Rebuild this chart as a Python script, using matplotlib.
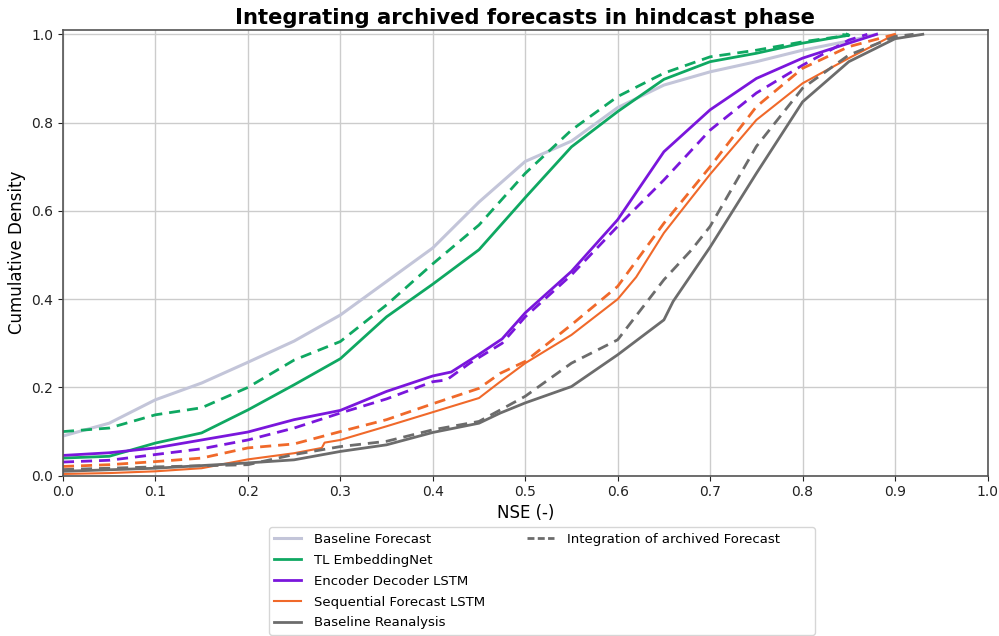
import matplotlib
matplotlib.use("Agg")
import matplotlib.pyplot as plt
from matplotlib.lines import Line2D

# NSE values (x) and cumulative density (y)
nse_grid = [0.0, 0.05, 0.1, 0.15, 0.2, 0.25, 0.3, 0.35, 0.4, 0.45, 0.5,
            0.55, 0.6, 0.65, 0.7, 0.75, 0.8, 0.85]

# Baseline Forecast
bf_x = nse_grid + [0.88]
bf_y = [0.090, 0.119, 0.172, 0.210, 0.257, 0.305, 0.364, 0.440, 0.516, 0.620, 0.712,
        0.758, 0.834, 0.885, 0.915, 0.938, 0.964, 0.985, 1.0]

# TL EmbeddingNet
tl_x = nse_grid + [0.848]
tl_y = [0.040, 0.044, 0.074, 0.097, 0.149, 0.206, 0.265, 0.360, 0.434, 0.512, 0.630,
        0.745, 0.825, 0.898, 0.938, 0.957, 0.980, 0.998, 1.0]
tl_dash_x = nse_grid + [0.84]
tl_dash_y = [0.100, 0.108, 0.138, 0.154, 0.200, 0.262, 0.304, 0.387, 0.480, 0.568, 0.685,
             0.783, 0.859, 0.912, 0.949, 0.964, 0.983, 0.998, 1.0]

# Encoder Decoder LSTM
ed_x = [0.0, 0.05, 0.1, 0.15, 0.2, 0.25, 0.3, 0.35, 0.4, 0.42, 0.45, 0.475, 0.5,
        0.55, 0.6, 0.65, 0.7, 0.75, 0.8, 0.85, 0.88]
ed_y = [0.046, 0.052, 0.063, 0.081, 0.099, 0.127, 0.148, 0.191, 0.226, 0.235, 0.275,
        0.310, 0.369, 0.463, 0.580, 0.734, 0.829, 0.900, 0.946, 0.980, 1.0]
ed_dash_x = [0.0, 0.05, 0.1, 0.15, 0.2, 0.25, 0.3, 0.35, 0.4, 0.415, 0.44, 0.475, 0.5,
             0.55, 0.6, 0.65, 0.7, 0.75, 0.8, 0.85, 0.87]
ed_dash_y = [0.031, 0.035, 0.048, 0.061, 0.081, 0.108, 0.142, 0.174, 0.213, 0.217, 0.255,
             0.300, 0.360, 0.455, 0.565, 0.670, 0.783, 0.867, 0.930, 0.987, 1.0]

# Sequential Forecast LSTM
sf_x = [0.0, 0.05, 0.1, 0.15, 0.2, 0.25, 0.28, 0.283, 0.3, 0.35, 0.4, 0.45, 0.473, 0.5,
        0.55, 0.6, 0.62, 0.65, 0.68, 0.7, 0.75, 0.8, 0.85, 0.9]
sf_y = [0.004, 0.006, 0.010, 0.017, 0.037, 0.051, 0.063, 0.075, 0.081, 0.112, 0.144,
        0.176, 0.213, 0.255, 0.319, 0.400, 0.450, 0.550, 0.630, 0.683, 0.806, 0.889,
        0.946, 1.0]
sf_dash_x = [0.0, 0.05, 0.1, 0.15, 0.2, 0.25, 0.3, 0.35, 0.4, 0.45, 0.473, 0.5,
             0.55, 0.6, 0.65, 0.7, 0.75, 0.8, 0.85, 0.9]
sf_dash_y = [0.021, 0.025, 0.032, 0.040, 0.063, 0.072, 0.100, 0.127, 0.163, 0.198,
             0.232, 0.259, 0.342, 0.429, 0.572, 0.700, 0.836, 0.923, 0.972, 1.0]

# Baseline Reanalysis
br_x = [0.0, 0.1, 0.2, 0.25, 0.3, 0.35, 0.4, 0.45, 0.473, 0.5, 0.55, 0.6, 0.65, 0.66,
        0.7, 0.75, 0.8, 0.85, 0.9, 0.93]
br_y = [0.010, 0.017, 0.029, 0.036, 0.055, 0.070, 0.098, 0.119, 0.142, 0.165, 0.202,
        0.274, 0.353, 0.395, 0.518, 0.685, 0.847, 0.938, 0.990, 1.0]
br_dash_x = [0.0, 0.1, 0.2, 0.25, 0.3, 0.35, 0.4, 0.45, 0.473, 0.5, 0.55, 0.6, 0.65,
             0.68, 0.7, 0.75, 0.8, 0.85, 0.9, 0.92]
br_dash_y = [0.014, 0.020, 0.025, 0.048, 0.066, 0.078, 0.104, 0.123, 0.149, 0.180,
             0.255, 0.308, 0.444, 0.512, 0.565, 0.746, 0.878, 0.953, 0.995, 1.0]

model_names = ["Baseline Forecast", "TL EmbeddingNet", "Encoder Decoder LSTM",
               "Sequential Forecast LSTM", "Baseline Reanalysis"]
model_colors = ["#c3c5d9", "#0fa862", "#7a16dc", "#f0692a", "#6c6c6c"]
model_widths = [2.2, 2.0, 2.0, 1.5, 2.0]
dash = (0, (4, 2.5))

fig = plt.figure(figsize=(9.99, 6.36), dpi=100)
ax = fig.add_axes([0.063, 0.252, 0.9255, 0.701])

ax.grid(True, color="#cccccc", linewidth=1.0)
ax.set_axisbelow(True)

# solid lines = model, dashed lines = integration of archived forecast
ax.plot(bf_x, bf_y, color=model_colors[0], lw=model_widths[0])
ax.plot(tl_x, tl_y, color=model_colors[1], lw=model_widths[1])
ax.plot(tl_dash_x, tl_dash_y, color=model_colors[1], lw=2.0, ls=dash)
ax.plot(ed_x, ed_y, color=model_colors[2], lw=model_widths[2])
ax.plot(ed_dash_x, ed_dash_y, color=model_colors[2], lw=2.0, ls=dash)
ax.plot(sf_x, sf_y, color=model_colors[3], lw=model_widths[3])
ax.plot(sf_dash_x, sf_dash_y, color=model_colors[3], lw=2.0, ls=dash)
ax.plot(br_x, br_y, color=model_colors[4], lw=model_widths[4])
ax.plot(br_dash_x, br_dash_y, color=model_colors[4], lw=2.0, ls=dash)

ax.set_xlim(0, 1.0)
ax.set_ylim(0, 1.01)
ax.set_xticks([0.0, 0.1, 0.2, 0.3, 0.4, 0.5, 0.6, 0.7, 0.8, 0.9, 1.0])
ax.set_yticks([0.0, 0.2, 0.4, 0.6, 0.8, 1.0])
ax.tick_params(labelsize=10, colors="#222222")
for s in ax.spines.values():
    s.set_color("#555555")
    s.set_linewidth(1.2)

ax.set_xlabel("NSE (-)", fontsize=12, labelpad=3)
ax.set_ylabel("Cumulative Density", fontsize=12)
ax.set_title("Integrating archived forecasts in hindcast phase",
             fontsize=15.2, fontweight="bold", pad=4)

# legend: 5 models in column 1, dashed style entry alone in column 2
handles = [Line2D([], [], color=c, lw=w) for c, w in zip(model_colors, model_widths)]
handles.append(Line2D([], [], color="#6c6c6c", lw=2.0, ls=(0, (2.5, 1.2))))
blank = Line2D([], [], color="none")
handles += [blank] * 4
labels = model_names + ["Integration of archived Forecast" + " " * 7] + [" "] * 4
fig.legend(handles, labels, ncol=2, loc="upper center",
           bbox_to_anchor=(0.5425, 0.181), fontsize=9.5, frameon=True,
           fancybox=True, columnspacing=3.2, handletextpad=1.0,
           labelspacing=0.6)

plt.savefig("out.png", dpi=100)
